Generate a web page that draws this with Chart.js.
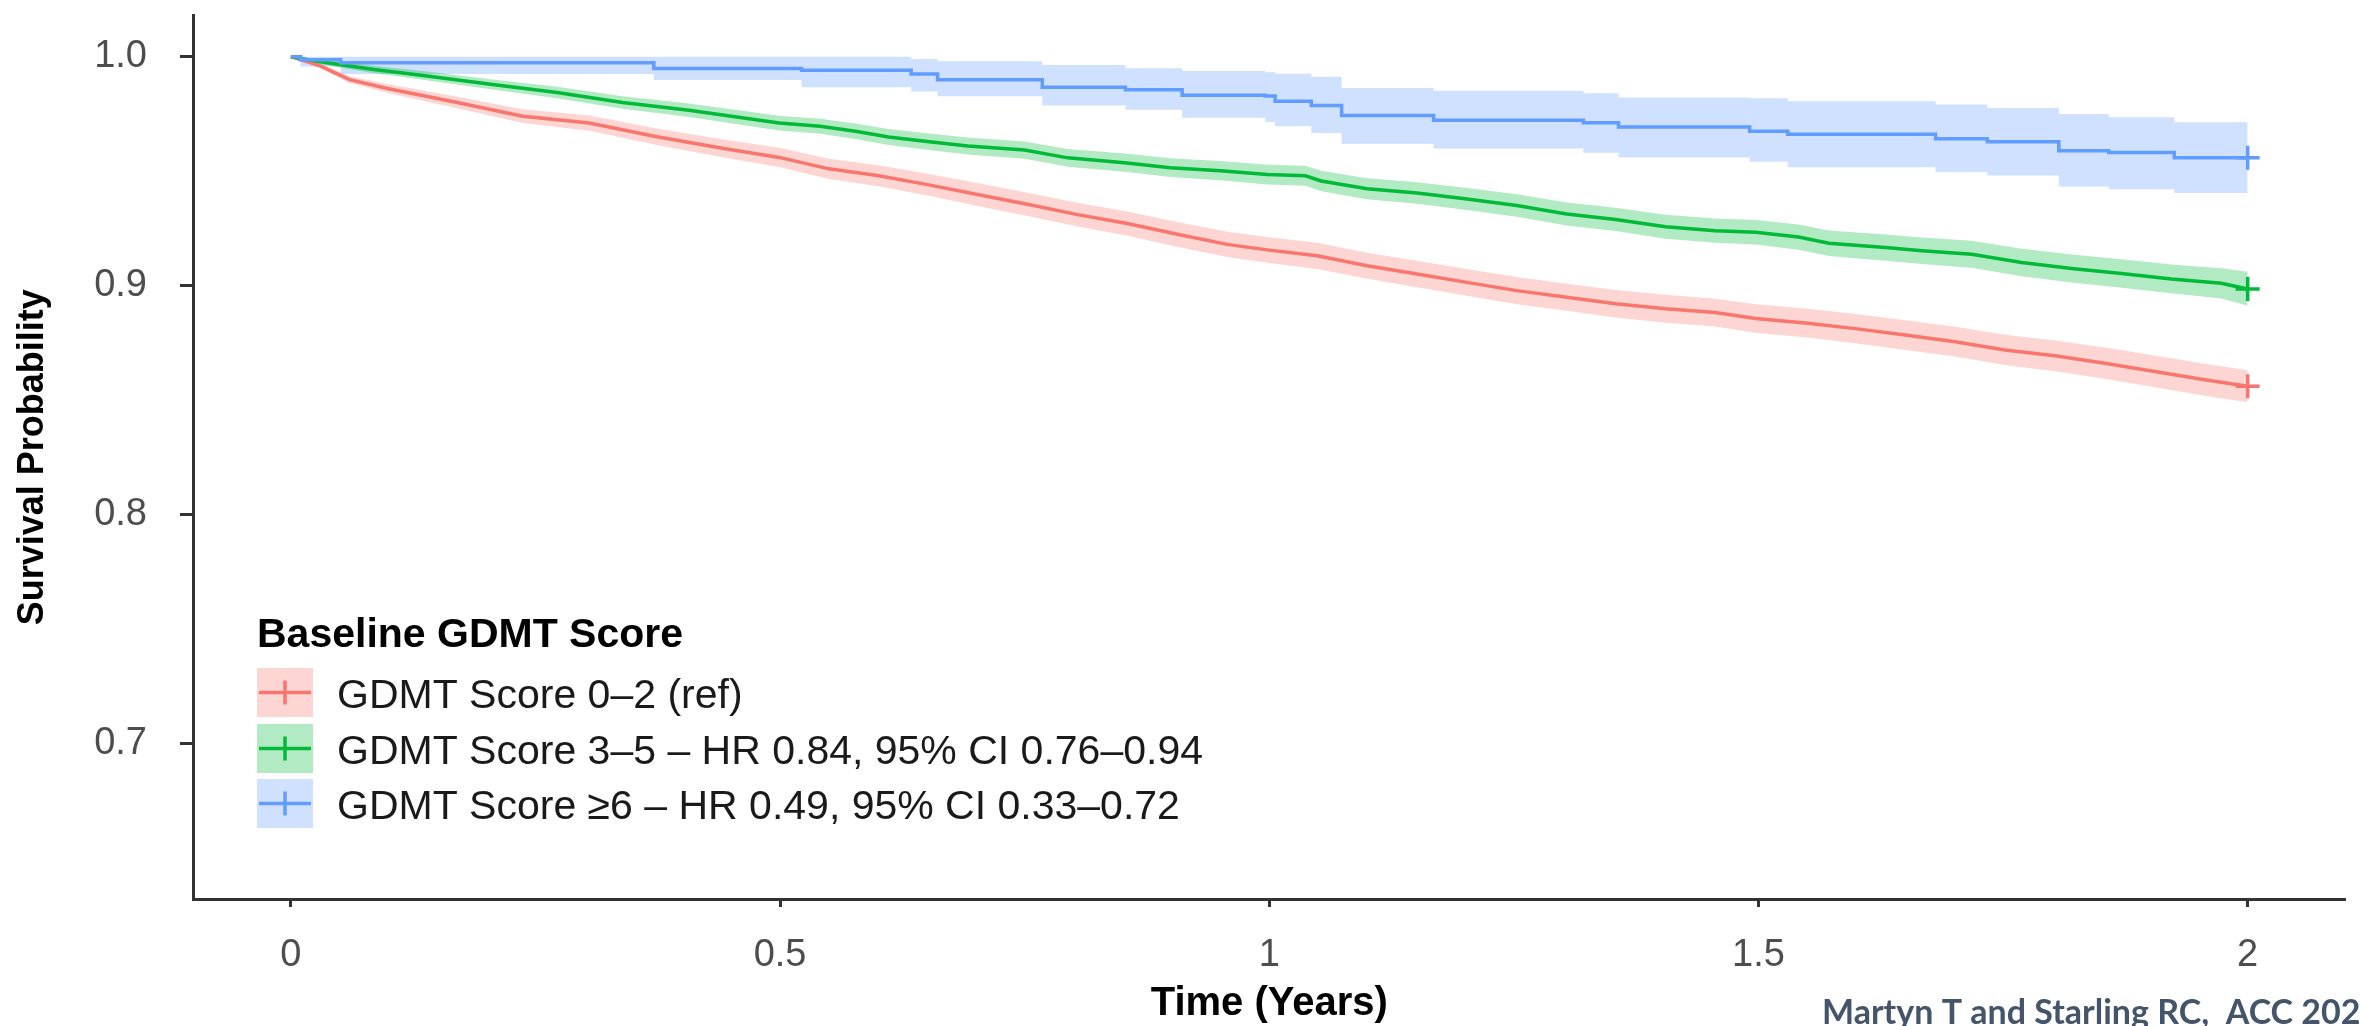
<!DOCTYPE html>
<html>
<head>
<meta charset="utf-8">
<script src="https://cdn.jsdelivr.net/npm/chart.js@4.4.1/dist/chart.umd.min.js"></script>
<style>
html,body{margin:0;padding:0;background:#ffffff;overflow:hidden;}
#wrap{width:2361px;height:1026px;position:relative;}
</style>
</head>
<body>
<div id="wrap"><canvas id="c"></canvas></div>
<script>
// ---------------- DATA ----------------
const seriesNames = [
  "GDMT Score 0\u20132 (ref)",
  "GDMT Score 3\u20135 \u2013 HR 0.84, 95% CI 0.76\u20130.94",
  "GDMT Score \u22656 \u2013 HR 0.49, 95% CI 0.33\u20130.72"
];
const legendTitle = "Baseline GDMT Score";
const xTitle = "Time (Years)";
const yTitle = "Survival Probability";
const creditText = "Martyn T and Starling RC,  ACC 2025";

const xTicks = [0, 0.5, 1, 1.5, 2];
const xTickLabels = ["0", "0.5", "1", "1.5", "2"];
const yTicks = [0.7, 0.8, 0.9, 1.0];
const yTickLabels = ["0.7", "0.8", "0.9", "1.0"];

// GDMT Score 0-2 (ref)
const redTime  = [0, 0.03, 0.06, 0.10, 0.17, 0.237, 0.305, 0.374, 0.441, 0.499, 0.55, 0.601, 0.652, 0.703, 0.754, 0.804, 0.855, 0.906, 0.957, 0.998, 1.049, 1.1, 1.151, 1.202, 1.253, 1.304, 1.354, 1.405, 1.456, 1.497, 1.548, 1.599, 1.65, 1.701, 1.752, 1.803, 1.854, 1.905, 1.956, 2.0];
const redSurv  = [1.0, 0.996, 0.990, 0.986, 0.980, 0.974, 0.971, 0.965, 0.960, 0.956, 0.951, 0.948, 0.944, 0.9397, 0.9354, 0.931, 0.9271, 0.9224, 0.918, 0.9156, 0.913, 0.9087, 0.9051, 0.9014, 0.8978, 0.8949, 0.8921, 0.8899, 0.8882, 0.8856, 0.8837, 0.8812, 0.8784, 0.8755, 0.8719, 0.8693, 0.8661, 0.8625, 0.8589, 0.856];
const redLower = [1.0, 0.995, 0.9885, 0.984, 0.9775, 0.971, 0.9677, 0.9614, 0.9561, 0.9518, 0.9466, 0.9434, 0.9392, 0.9347, 0.9303, 0.9258, 0.9218, 0.917, 0.9125, 0.91, 0.9073, 0.903, 0.8993, 0.8956, 0.8919, 0.889, 0.8861, 0.8838, 0.8821, 0.8794, 0.8774, 0.8748, 0.8719, 0.869, 0.8653, 0.8626, 0.8593, 0.8556, 0.8519, 0.849];
const redUpper = [1.0, 0.997, 0.9915, 0.988, 0.9825, 0.977, 0.9743, 0.9686, 0.9639, 0.9602, 0.9554, 0.9526, 0.9488, 0.9447, 0.9405, 0.9362, 0.9324, 0.9278, 0.9235, 0.9212, 0.9187, 0.9144, 0.9109, 0.9072, 0.9037, 0.9008, 0.8981, 0.896, 0.8943, 0.8918, 0.89, 0.8876, 0.8849, 0.882, 0.8785, 0.876, 0.8729, 0.8694, 0.8659, 0.863];

// GDMT Score 3-5
const greenTime  = [0, 0.027, 0.051, 0.085, 0.135, 0.204, 0.272, 0.339, 0.407, 0.499, 0.541, 0.577, 0.611, 0.648, 0.692, 0.75, 0.794, 0.852, 0.899, 0.95, 0.998, 1.037, 1.053, 1.1, 1.151, 1.202, 1.253, 1.304, 1.354, 1.405, 1.456, 1.497, 1.541, 1.572, 1.63, 1.667, 1.718, 1.769, 1.82, 1.871, 1.922, 1.973, 2.0];
const greenSurv  = [1.0, 0.998, 0.9965, 0.9944, 0.9918, 0.988, 0.9844, 0.980, 0.9766, 0.971, 0.9696, 0.9674, 0.9649, 0.9631, 0.961, 0.9592, 0.9558, 0.9537, 0.9515, 0.9502, 0.9485, 0.948, 0.9457, 0.9423, 0.9404, 0.9378, 0.935, 0.9313, 0.9289, 0.9257, 0.924, 0.9233, 0.9212, 0.9185, 0.9166, 0.9152, 0.9137, 0.9101, 0.9075, 0.9053, 0.9029, 0.901, 0.8985];
const greenLower = [1.0, 0.997, 0.9952, 0.9928, 0.9899, 0.9858, 0.9819, 0.9773, 0.9737, 0.9678, 0.9663, 0.964, 0.9614, 0.9595, 0.9573, 0.9554, 0.9519, 0.9497, 0.9474, 0.946, 0.9442, 0.9436, 0.9412, 0.9377, 0.9357, 0.933, 0.9301, 0.9263, 0.9238, 0.9205, 0.9187, 0.9179, 0.9157, 0.9129, 0.9109, 0.9094, 0.9078, 0.9041, 0.9014, 0.8991, 0.8966, 0.8944, 0.8912];
const greenUpper = [1.0, 0.999, 0.9978, 0.996, 0.9937, 0.9902, 0.9869, 0.9827, 0.9795, 0.9742, 0.9729, 0.9708, 0.9684, 0.9667, 0.9647, 0.963, 0.9597, 0.9577, 0.9556, 0.9544, 0.9528, 0.9524, 0.9502, 0.9469, 0.9451, 0.9426, 0.9399, 0.9363, 0.934, 0.9309, 0.9293, 0.9287, 0.9267, 0.9241, 0.9223, 0.921, 0.9196, 0.9161, 0.9136, 0.9115, 0.9092, 0.9076, 0.906];

// GDMT Score >=6
const blueTime  = [0, 0.01, 0.051, 0.371, 0.522, 0.634, 0.661, 0.768, 0.853, 0.911, 0.996, 1.006, 1.043, 1.074, 1.168, 1.321, 1.357, 1.491, 1.53, 1.681, 1.734, 1.807, 1.858, 1.925, 2.0];
const blueSurv  = [1.0, 0.9987, 0.9974, 0.9948, 0.9941, 0.9924, 0.9899, 0.9866, 0.9856, 0.9832, 0.9828, 0.9805, 0.9787, 0.9743, 0.9722, 0.9711, 0.9693, 0.9674, 0.9661, 0.9642, 0.9628, 0.9589, 0.9581, 0.9558, 0.9558];
const blueLower = [1.0, 0.9957, 0.9924, 0.9898, 0.9866, 0.9848, 0.9827, 0.9787, 0.9768, 0.9733, 0.9715, 0.9696, 0.9667, 0.962, 0.9599, 0.958, 0.956, 0.9541, 0.9517, 0.9495, 0.9481, 0.9433, 0.9421, 0.9404, 0.9404];
const blueUpper = [1.0, 1.0, 1.0, 1.0, 1.0, 0.999, 0.998, 0.9964, 0.995, 0.9938, 0.9932, 0.9926, 0.9912, 0.9863, 0.9851, 0.984, 0.9822, 0.9818, 0.9805, 0.9791, 0.9776, 0.975, 0.9736, 0.9714, 0.9714];

// ---------------- STYLE ----------------
const lineColors = ["#F8766D", "#00BA38", "#619CFF"];
const fillColors = ["rgba(248,118,109,0.3)", "rgba(0,186,56,0.3)", "rgba(97,156,255,0.3)"];
const FONT = '"Liberation Sans", Arial, Helvetica, sans-serif';

function pts(t, v) { return t.map((x, i) => ({ x: x, y: v[i] })); }

const groups = [
  { time: redTime, surv: redSurv, lo: redLower, hi: redUpper, stepped: false },
  { time: greenTime, surv: greenSurv, lo: greenLower, hi: greenUpper, stepped: false },
  { time: blueTime, surv: blueSurv, lo: blueLower, hi: blueUpper, stepped: 'before' }
];

const datasets = [];
groups.forEach((g, k) => {
  datasets.push({
    label: seriesNames[k] + " upper",
    data: pts(g.time, g.hi),
    borderWidth: 0, borderColor: 'rgba(0,0,0,0)',
    pointRadius: 0, fill: false, stepped: g.stepped, tension: 0, order: 20
  });
  datasets.push({
    label: seriesNames[k] + " lower",
    data: pts(g.time, g.lo),
    borderWidth: 0, borderColor: 'rgba(0,0,0,0)',
    backgroundColor: fillColors[k],
    pointRadius: 0, fill: '-1', stepped: g.stepped, tension: 0, order: 20
  });
});
groups.forEach((g, k) => {
  const n = g.time.length;
  datasets.push({
    label: seriesNames[k],
    data: pts(g.time, g.surv),
    borderColor: lineColors[k],
    borderWidth: 3.5,
    fill: false,
    stepped: g.stepped,
    tension: 0,
    pointStyle: 'cross',
    pointRadius: (ctx) => ctx.dataIndex === n - 1 ? 12 : 0,
    pointBorderColor: lineColors[k],
    pointBorderWidth: 3.5,
    order: 3 - k
  });
});

const legendPlugin = {
  id: 'kmLegend',
  afterDraw(chart) {
    const ctx = chart.ctx;
    ctx.save();
    ctx.textAlign = 'left';
    ctx.textBaseline = 'middle';
    ctx.fillStyle = '#000000';
    ctx.font = 'bold 41px ' + FONT;
    ctx.fillText(legendTitle, 257, 636);
    const rows = [692.5, 748.5, 803.5];
    for (let i = 0; i < 3; i++) {
      const cy = rows[i];
      ctx.fillStyle = fillColors[i];
      ctx.fillRect(257, cy - 24.5, 56, 49);
      ctx.strokeStyle = lineColors[i];
      ctx.lineWidth = 3.5;
      ctx.beginPath();
      ctx.moveTo(259, cy); ctx.lineTo(311, cy);
      ctx.moveTo(285, cy - 12); ctx.lineTo(285, cy + 12);
      ctx.stroke();
      ctx.fillStyle = '#1a1a1a';
      ctx.font = '41px ' + FONT;
      ctx.fillText(seriesNames[i], 337, cy + 4.5);
    }
    ctx.font = 'bold 34px Lato, "Open Sans", sans-serif';
    ctx.fillStyle = '#44546A';
    ctx.textBaseline = 'alphabetic';
    ctx.fillText(creditText, 1822, 1024);
    ctx.restore();
  }
};

new Chart(document.getElementById('c'), {
  type: 'line',
  data: { datasets: datasets },
  plugins: [legendPlugin],
  options: {
    responsive: true,
    maintainAspectRatio: false,
    devicePixelRatio: 1,
    animation: false,
    events: [],
    layout: { padding: { top: 8, right: 13, left: 0, bottom: 0 } },
    plugins: {
      legend: { display: false },
      tooltip: { enabled: false },
      filler: { propagate: false, drawTime: 'beforeDatasetsDraw' }
    },
    scales: {
      x: {
        type: 'linear',
        min: -0.1, max: 2.1,
        afterBuildTicks: (s) => { s.ticks = xTicks.map(v => ({ value: v })); },
        afterFit: (s) => { s.height = 127; s.paddingLeft = 0; s.paddingRight = 0; },
        ticks: {
          callback: (v, i) => xTickLabels[i],
          font: { family: FONT, size: 38 },
          color: '#4d4d4d',
          padding: 26,
          maxRotation: 0,
          autoSkip: false
        },
        grid: { display: true, drawOnChartArea: false, drawTicks: true, tickLength: 8, tickColor: '#333333', tickWidth: 3 },
        border: { display: true, color: '#333333', width: 3 },
        title: { display: true, text: xTitle, color: '#000000', font: { family: FONT, size: 40, weight: 'bold', lineHeight: 1 }, padding: { top: 0, bottom: 2 } }
      },
      y: {
        type: 'linear',
        min: 0.632, max: 1.018,
        afterBuildTicks: (s) => { s.ticks = yTicks.map(v => ({ value: v })); },
        afterFit: (s) => { s.width = 193; s.paddingTop = 0; s.paddingBottom = 0; },
        ticks: {
          callback: (v, i) => yTickLabels[i],
          font: { family: FONT, size: 38 },
          color: '#4d4d4d',
          padding: 33,
          autoSkip: false
        },
        grid: { display: true, drawOnChartArea: false, drawTicks: true, tickLength: 13, tickColor: '#333333', tickWidth: 3 },
        border: { display: true, color: '#333333', width: 3 },
        title: { display: true, text: yTitle, color: '#000000', font: { family: FONT, size: 36, weight: 'bold', lineHeight: 1 }, padding: { top: 15, bottom: 0 } }
      }
    }
  }
});
</script>
</body>
</html>
